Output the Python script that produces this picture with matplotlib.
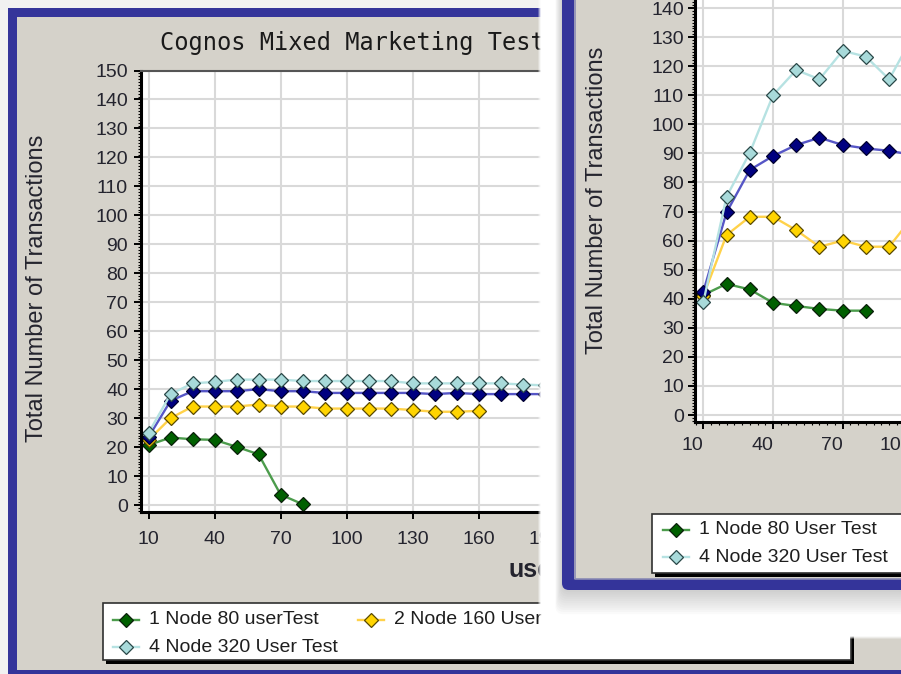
import matplotlib
matplotlib.use('Agg')
import matplotlib.pyplot as plt
from matplotlib.patches import Rectangle, FancyBboxPatch
from matplotlib.ticker import MultipleLocator

plt.rcParams['font.family'] = ['Liberation Sans', 'DejaVu Sans']

# ---- data: Cognos Mixed Marketing Test (left sheet) ----
left_users = [10, 20, 30, 40, 50, 60, 70, 80, 90, 100,
              110, 120, 130, 140, 150, 160, 170, 180, 190]
left_1node = [20.7, 23.3, 22.7, 22.5, 20.1, 17.5, 3.6, 0.3]
left_2node = [22.5, 30.0, 34.0, 34.0, 34.0, 34.7, 34.0, 34.0, 33.3, 33.3,
              33.3, 33.3, 32.8, 32.2, 32.2, 32.5]
left_blue = [23.5, 36.0, 39.3, 39.3, 39.3, 40.0, 39.3, 39.3, 38.7, 38.7,
             38.7, 38.7, 38.7, 38.3, 38.7, 38.3, 38.3, 38.3, 38.3]
left_4node = [24.9, 38.3, 42.0, 42.5, 43.3, 43.3, 43.3, 42.8, 42.8, 42.8,
              42.8, 42.8, 42.0, 42.0, 42.0, 42.0, 42.0, 41.6, 41.3]
left_xticks = [10, 40, 70, 100, 130, 160, 190]

# ---- data: second run (right sheet) ----
right_users = [10, 20, 30, 40, 50, 60, 70, 80, 90, 100]
right_1node = [41.3, 45.1, 43.2, 38.6, 37.5, 36.5, 35.9, 35.9]
right_2node = [41.0, 61.9, 68.2, 68.2, 63.6, 57.9, 60.0, 57.9, 57.9, 68.0]
right_blue = [42.4, 69.7, 84.3, 89.1, 92.9, 95.4, 92.9, 91.7, 90.9, 89.5]
right_4node = [38.8, 75.1, 90.2, 110.0, 118.7, 115.5, 125.3, 123.3, 115.5, 130.0]
right_xticks = [10, 40, 70, 100]

y_ticks = list(range(0, 151, 10))

GREEN = dict(line='#4c9c4c', face='#006000', edge='#0a200a')
YELLOW = dict(line='#ffd24a', face='#ffd400', edge='#5a4a00')
BLUE = dict(line='#5656c6', face='#000080', edge='#000030')
CYAN = dict(line='#b6e2e2', face='#a8dada', edge='#2a4848')

PANEL = '#d5d2ca'
FRAME = '#34349a'
TEXT = '#24242e'

W, H = 901, 674
fig = plt.figure(figsize=(W / 100, H / 100), dpi=100)
fig.patch.set_facecolor('#f1f1f1')


def px_axes(left, top, right, bottom, z):
    ax = fig.add_axes([left / W, 1 - bottom / H, (right - left) / W, (bottom - top) / H])
    ax.set_zorder(z)
    return ax


def sheet(z):
    ax = px_axes(0, 0, W, H, z)
    ax.set_xlim(0, W)
    ax.set_ylim(H, 0)
    ax.axis('off')
    return ax


def draw_series(ax, x, y, st):
    ax.plot(x[:len(y)], y, color=st['line'], lw=1.7, marker='D', ms=6.8,
            mfc=st['face'], mec=st['edge'], mew=0.9)


def legend_box(ax, x0, y0, x1, y1):
    ax.add_patch(Rectangle((x0 + 3, y0 + 3.5), x1 - x0, y1 - y0, fc='black', ec='none'))
    ax.add_patch(Rectangle((x0, y0), x1 - x0, y1 - y0, fc='white', ec='#303030', lw=1.2))


def legend_entry(ax, x, y, st, label):
    ax.plot([x - 13, x + 13], [y, y], color=st['line'], lw=1.7)
    ax.plot([x], [y], marker='D', ms=6.8, mfc=st['face'], mec=st['edge'], mew=0.9)
    ax.text(x + 23, y, label, va='center', ha='left', fontsize=14, color='#1e1e1e')


def style_plot(ax):
    ax.set_facecolor('white')
    ax.set_axisbelow(True)
    ax.grid(True, which='major', color='#d9d9d9', lw=1.5)
    for side in ('left', 'bottom'):
        ax.spines[side].set_linewidth(2.2)
        ax.spines[side].set_color('black')
    for side in ('top', 'right'):
        ax.spines[side].set_linewidth(1.5)
        ax.spines[side].set_color('#555555')
    ax.set_yticks(y_ticks)
    ax.yaxis.set_minor_locator(MultipleLocator(1))
    ax.tick_params(which='major', direction='out', length=5, width=1.4,
                   labelsize=14, labelcolor=TEXT)
    ax.tick_params(which='minor', direction='out', length=2, width=0.8)


# ---- left sheet: frame, titles, legend ----
bg = sheet(0)
bg.add_patch(Rectangle((8, 8), 1000, 700, fc=FRAME, ec='none'))
bg.add_patch(Rectangle((17, 17), 1000, 653, fc=PANEL, ec='none'))
bg.text(160, 43, 'Cognos Mixed Marketing Test', family='DejaVu Sans Mono',
        fontsize=17, color='#1a1a1a', va='center', ha='left')
bg.text(37, 288, 'Total Number of Transactions', rotation=90, fontsize=17,
        color=TEXT, va='center', ha='center')
bg.text(508, 570, 'users', fontsize=18, fontweight='bold', color=TEXT,
        va='center', ha='left')
legend_box(bg, 103, 603, 851, 660)
legend_entry(bg, 126, 620, GREEN, '1 Node 80 userTest')
legend_entry(bg, 371, 620, YELLOW, '2 Node 160 User Test')
legend_entry(bg, 126, 647, CYAN, '4 Node 320 User Test')

# ---- left chart (only the part left of the glow is ever seen) ----
axL = px_axes(140.5, 70.5, 620, 511.7, 1)
style_plot(axL)
lx0 = 10 - (148.6 - 140.5) / 2.2
axL.set_xlim(lx0, lx0 + (620 - 140.5) / 2.2)
axL.set_ylim(-2.3, 150)
axL.set_xticks(left_xticks)
axL.tick_params(axis='x', pad=9)
axL.tick_params(axis='y', pad=4)
draw_series(axL, left_users, left_1node, GREEN)
draw_series(axL, left_users, left_2node, YELLOW)
draw_series(axL, left_users, left_blue, BLUE)
draw_series(axL, left_users, left_4node, CYAN)

# ---- white glow and right sheet frame ----
ov = sheet(2)
for d, a in ((3, 0.25), (2, 0.45), (1, 0.7)):
    ov.add_patch(FancyBboxPatch((541 - d, -100), 700, 736 + d,
                                boxstyle='round,pad=0,rounding_size=32',
                                fc='white', ec='none', alpha=a))
ov.add_patch(FancyBboxPatch((541, -100), 700, 736,
                            boxstyle='round,pad=0,rounding_size=32',
                            fc='white', ec='none'))
for k in range(12):
    ov.add_patch(FancyBboxPatch((562 - 0.6 * k, -100), 700, 690 + 2.2 * k,
                                boxstyle='round,pad=0,rounding_size=8',
                                fc='#606060', ec='none', alpha=0.028))
ov.add_patch(FancyBboxPatch((562, -100), 700, 690,
                            boxstyle='round,pad=0,rounding_size=7',
                            fc=FRAME, ec='none'))
ov.add_patch(Rectangle((574, -100), 700, 679, fc=PANEL, ec='none'))
ov.plot([574.5, 574.5, 1000], [-100, 578.5, 578.5], color='#8a8ab4', lw=1.2)
ov.text(597, 200, 'Total Number of Transactions', rotation=90, fontsize=17,
        color=TEXT, va='center', ha='center')
legend_box(ov, 652, 514, 1000, 573)
legend_entry(ov, 676, 530, GREEN, '1 Node 80 User Test')
legend_entry(ov, 676, 557, CYAN, '4 Node 320 User Test')

# ---- right chart ----
axR = px_axes(695, -21, 1000, 421.7, 3)
style_plot(axR)
rx0 = 10 - (703.3 - 695) / 2.323
axR.set_xlim(rx0, rx0 + (1000 - 695) / 2.323)
axR.set_ylim(-2.3, 150)
axR.set_xticks(right_xticks)
axR.xaxis.set_minor_locator(MultipleLocator(10 / 3))
axR.tick_params(axis='x', pad=6)
axR.tick_params(axis='y', pad=3)
for lab in axR.get_xticklabels():
    lab.set_ha('right')
draw_series(axR, right_users, right_1node, GREEN)
draw_series(axR, right_users, right_2node, YELLOW)
draw_series(axR, right_users, right_blue, BLUE)
draw_series(axR, right_users, right_4node, CYAN)

fig.savefig('out.png', dpi=100, facecolor=fig.get_facecolor())
